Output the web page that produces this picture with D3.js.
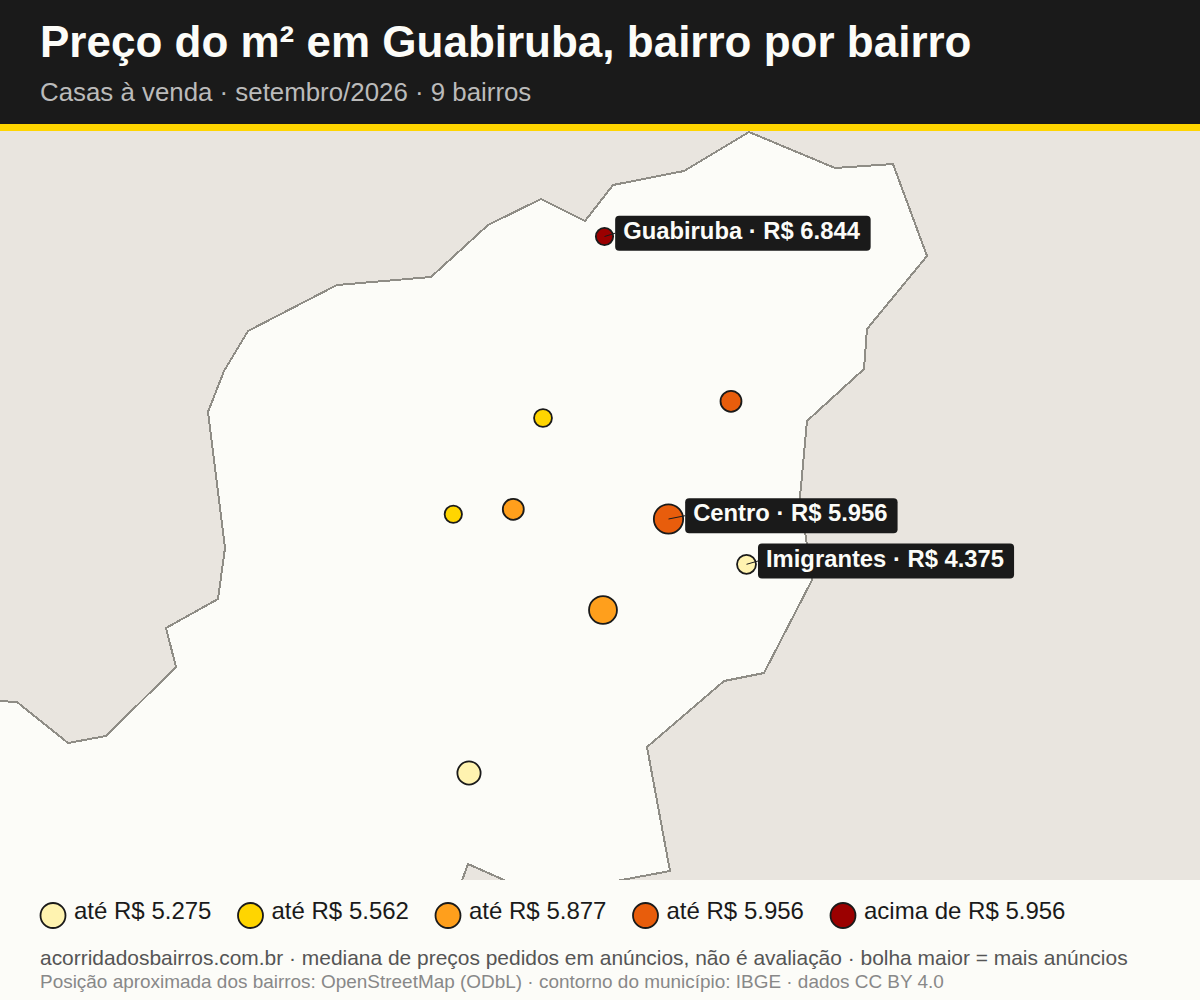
<!DOCTYPE html>
<html>
<head>
<meta charset="utf-8">
<script src="https://cdn.jsdelivr.net/npm/d3@7"></script>
<style>
  html, body { margin: 0; padding: 0; background: #fcfcf8; }
  svg { display: block; }
  text { font-family: "Liberation Sans", sans-serif; }
</style>
</head>
<body>
<svg id="chart" width="1200" height="1000"></svg>
<script>
// contorno do municipio (unidades do mapa)
const contourX = [749, 835, 893, 927, 867, 864, 807, 800, 812, 764, 724, 647, 670, 600, 513, 468, 455, -20, -20, 17, 68, 106, 176, 166, 218, 225, 208, 224, 248, 337, 431, 488, 541, 585, 613, 684];
const contourY = [132, 168, 164, 256, 329, 369, 421, 497, 580, 673, 681, 747, 871, 884, 884, 864, 900, 900, 700, 702, 743, 736, 667, 628, 599, 548, 412, 371, 331, 285, 277, 225, 199, 221, 185, 171];

const bairroX = [604.5, 731, 543, 453.3, 513.3, 668.5, 746.5, 603, 469];
const bairroY = [236.5, 401.3, 418, 514.3, 509.3, 519, 564.3, 610, 773];
const bairroPreco = [6844, 5956, 5500, 5450, 5800, 5956, 4375, 5750, 5100];
const bairroAnuncios = [15, 22, 16, 15, 22, 43, 18, 39, 27];
const bairroNome = ["Guabiruba", null, null, null, null, "Centro", "Imigrantes", null, null];

const faixas = [5275, 5562, 5877, 5956];
const faixaCores = ["#fff3b0", "#ffd500", "#ff9f1c", "#e85d0c", "#9b0000"];
const legendaTextos = ["até R$ 5.275", "até R$ 5.562", "até R$ 5.877", "até R$ 5.956", "acima de R$ 5.956"];

const titulo = "Preço do m² em Guabiruba, bairro por bairro";
const subtitulo = "Casas à venda · setembro/2026 · 9 bairros";
const rodape1 = "acorridadosbairros.com.br · mediana de preços pedidos em anúncios, não é avaliação · bolha maior = mais anúncios";
const rodape2 = "Posição aproximada dos bairros: OpenStreetMap (ODbL) · contorno do município: IBGE · dados CC BY 4.0";

const svg = d3.select("#chart");
const dark = "#1a1a1a";

const x = d3.scaleLinear().domain([0, 1200]).range([0, 1200]);
const y = d3.scaleLinear().domain([131, 880]).range([131, 880]);
const r = d3.scaleSqrt().domain([0, 45]).range([0, 15]);
const color = d => faixaCores[d3.bisectLeft(faixas, d)]; // "ate" inclui o limite
const fmt = d3.formatLocale({decimal: ",", thousands: ".", grouping: [3], currency: ["R$ ", ""]}).format("$,.0f");

// mapa
svg.append("rect").attr("x", 0).attr("y", 131).attr("width", 1200).attr("height", 749).attr("fill", "#e9e5df");

const line = d3.line().x(d => x(d[0])).y(d => y(d[1])).curve(d3.curveLinearClosed);
svg.append("path")
  .attr("d", line(d3.zip(contourX, contourY)))
  .attr("fill", "#fcfcf8")
  .attr("stroke", "#8f8d86")
  .attr("stroke-width", 2)
  .attr("shape-rendering", "crispEdges");

const bairros = bairroX.map((d, i) => ({
  x: d, y: bairroY[i], preco: bairroPreco[i], n: bairroAnuncios[i], nome: bairroNome[i]
}));

svg.append("g").selectAll("circle")
  .data(bairros).enter()
  .append("circle")
  .attr("cx", d => x(d.x))
  .attr("cy", d => y(d.y))
  .attr("r", d => r(d.n))
  .attr("fill", d => color(d.preco))
  .attr("stroke", dark)
  .attr("stroke-width", 1.8);

// rotulos com fundo escuro
const labels = svg.append("g").selectAll("g")
  .data(bairros.filter(d => d.nome)).enter()
  .append("g");

labels.each(function(d) {
  const g = d3.select(this);
  const tx = x(d.x) + r(d.n) + 10;
  const cy = y(d.y) - 3.3;
  g.append("line")
    .attr("x1", x(d.x)).attr("y1", y(d.y))
    .attr("x2", tx - 8).attr("y2", cy)
    .attr("stroke", dark)
    .attr("stroke-width", 1);
  const box = g.append("rect");
  const t = g.append("text")
    .attr("x", tx)
    .attr("y", cy + 5.5)
    .attr("fill", "#fcfcf8")
    .attr("font-weight", "bold")
    .attr("font-size", 23.8)
    .text(d.nome + " · " + fmt(d.preco));
  const b = t.node().getBBox();
  box.attr("x", tx - 8)
    .attr("y", cy - 17.5)
    .attr("width", b.width + 18)
    .attr("height", 35)
    .attr("rx", 4)
    .attr("fill", dark);
});

// cabecalho
svg.append("rect").attr("width", 1200).attr("height", 124).attr("fill", dark);
svg.append("rect").attr("y", 124).attr("width", 1200).attr("height", 7).attr("fill", "#ffd500");
svg.append("text").attr("x", 40).attr("y", 57)
  .attr("fill", "#fcfcf8").attr("font-weight", "bold").attr("font-size", 44).text(titulo);
svg.append("text").attr("x", 40).attr("y", 101)
  .attr("fill", "#bbbbbb").attr("font-size", 25.85).text(subtitulo);

// legenda e rodape
svg.append("rect").attr("y", 880).attr("width", 1200).attr("height", 120).attr("fill", "#fcfcf8");

const legX = d3.scalePoint().domain(d3.range(5)).range([53, 843]);
const leg = svg.append("g").selectAll("g")
  .data(legendaTextos).enter()
  .append("g")
  .attr("transform", (d, i) => `translate(${legX(i)},915.5)`);
leg.append("circle")
  .attr("r", 12.5)
  .attr("fill", (d, i) => faixaCores[i])
  .attr("stroke", dark)
  .attr("stroke-width", 1.8);
leg.append("text")
  .attr("x", 21)
  .attr("y", 3.5)
  .attr("fill", dark)
  .attr("font-size", 24)
  .text(d => d);

svg.append("text").attr("x", 40).attr("y", 965)
  .attr("fill", "#555555").attr("font-size", 20.95).text(rodape1);
svg.append("text").attr("x", 40).attr("y", 988)
  .attr("fill", "#888888").attr("font-size", 18.95).text(rodape2);
</script>
</body>
</html>
